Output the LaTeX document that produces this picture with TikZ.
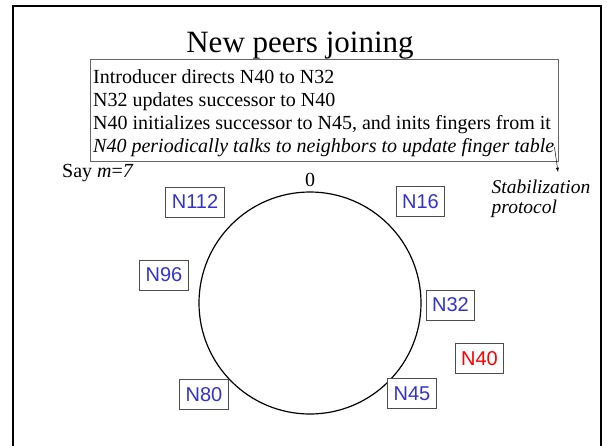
\documentclass[tikz,border=0pt]{standalone}
\usepackage{fontspec}
\setmainfont{Liberation Serif}
\newfontfamily\peerfont{Liberation Sans}
\usetikzlibrary{positioning,arrows}
\definecolor{peerblue}{RGB}{51,51,204}

\begin{document}
\begin{tikzpicture}[%
    x=1pt, y=-1pt,
    peer/.style={%
        draw=black!70,
        fill=white,
        line width=0.8pt,
        font=\peerfont\fontsize{20}{20}\selectfont,
        text=peerblue,
        minimum height=30pt,
        inner xsep=6pt,
        inner ysep=0pt,
    },
    note/.style={%
        anchor=base west,
        inner sep=0pt,
        font=\fontsize{20}{20}\selectfont,
    }
]
\useasboundingbox (0,0) rectangle (607,445);
\pgfmathsetlengthmacro{\linesep}{22.9pt};
    % slide frame and title
    \draw[line width=2.5pt] (13,450) -- (13,6) -- (601,6) -- (601,450);
    \node[anchor=base, font=\fontsize{31}{31}\selectfont] (title) at (300,52.5) {New peers joining};

    % notes box
    \node[draw=black!60, line width=0.8pt, minimum width=468pt, minimum height=102pt, inner sep=0pt] (notes) at (324,110) {};
    \foreach \i/\txt in {1/{Introducer directs N40 to N32},
                         2/{N32 updates successor to N40},
                         3/{N40 initializes successor to N45, and inits fingers from it},
                         4/{\itshape N40 periodically talks to neighbors to update finger table}}{%
        \pgfmathtruncatemacro\prev{\i-1};
        \ifnum \i=1
            \node[note] (l1) at (93,83.3) {\txt};
        \else
            \node[note, below=\linesep of l\prev.base west, anchor=base west] (l\i) {\txt};
        \fi
    }

    \node[note] (saym) at (62,177) {Say {\itshape m}=\textit{7}};
    \node[note, font=\fontsize{19.5}{19.5}\selectfont\itshape] (stab) at (491.5,193) {Stabilization};
    \node[note, font=\fontsize{19.5}{19.5}\selectfont\itshape, below=20pt of stab.base west, anchor=base west] (proto) {protocol};
    \coordinate (stabtip) at (558,172);
    \draw[-latex, line width=0.5pt] (l4.east) -- (stabtip);

    % the ring
    \node[draw, circle, line width=1.2pt, minimum size=222pt, inner sep=0pt] (ring) at (310,303) {};
    \node[note, anchor=base] (zero) at (310,186) {0};
    \foreach \n/\x/\y in {112/195/202, 16/420.5/201.5, 96/164/275, 32/450.5/305, 80/204/394.5, 45/412/393.5}{%
        \node[peer] (n\n) at (\x,\y) {N\n};
    }
    \node[peer, text=red] (n40) at (479.5,358.5) {N40};
\end{tikzpicture}
\end{document}
